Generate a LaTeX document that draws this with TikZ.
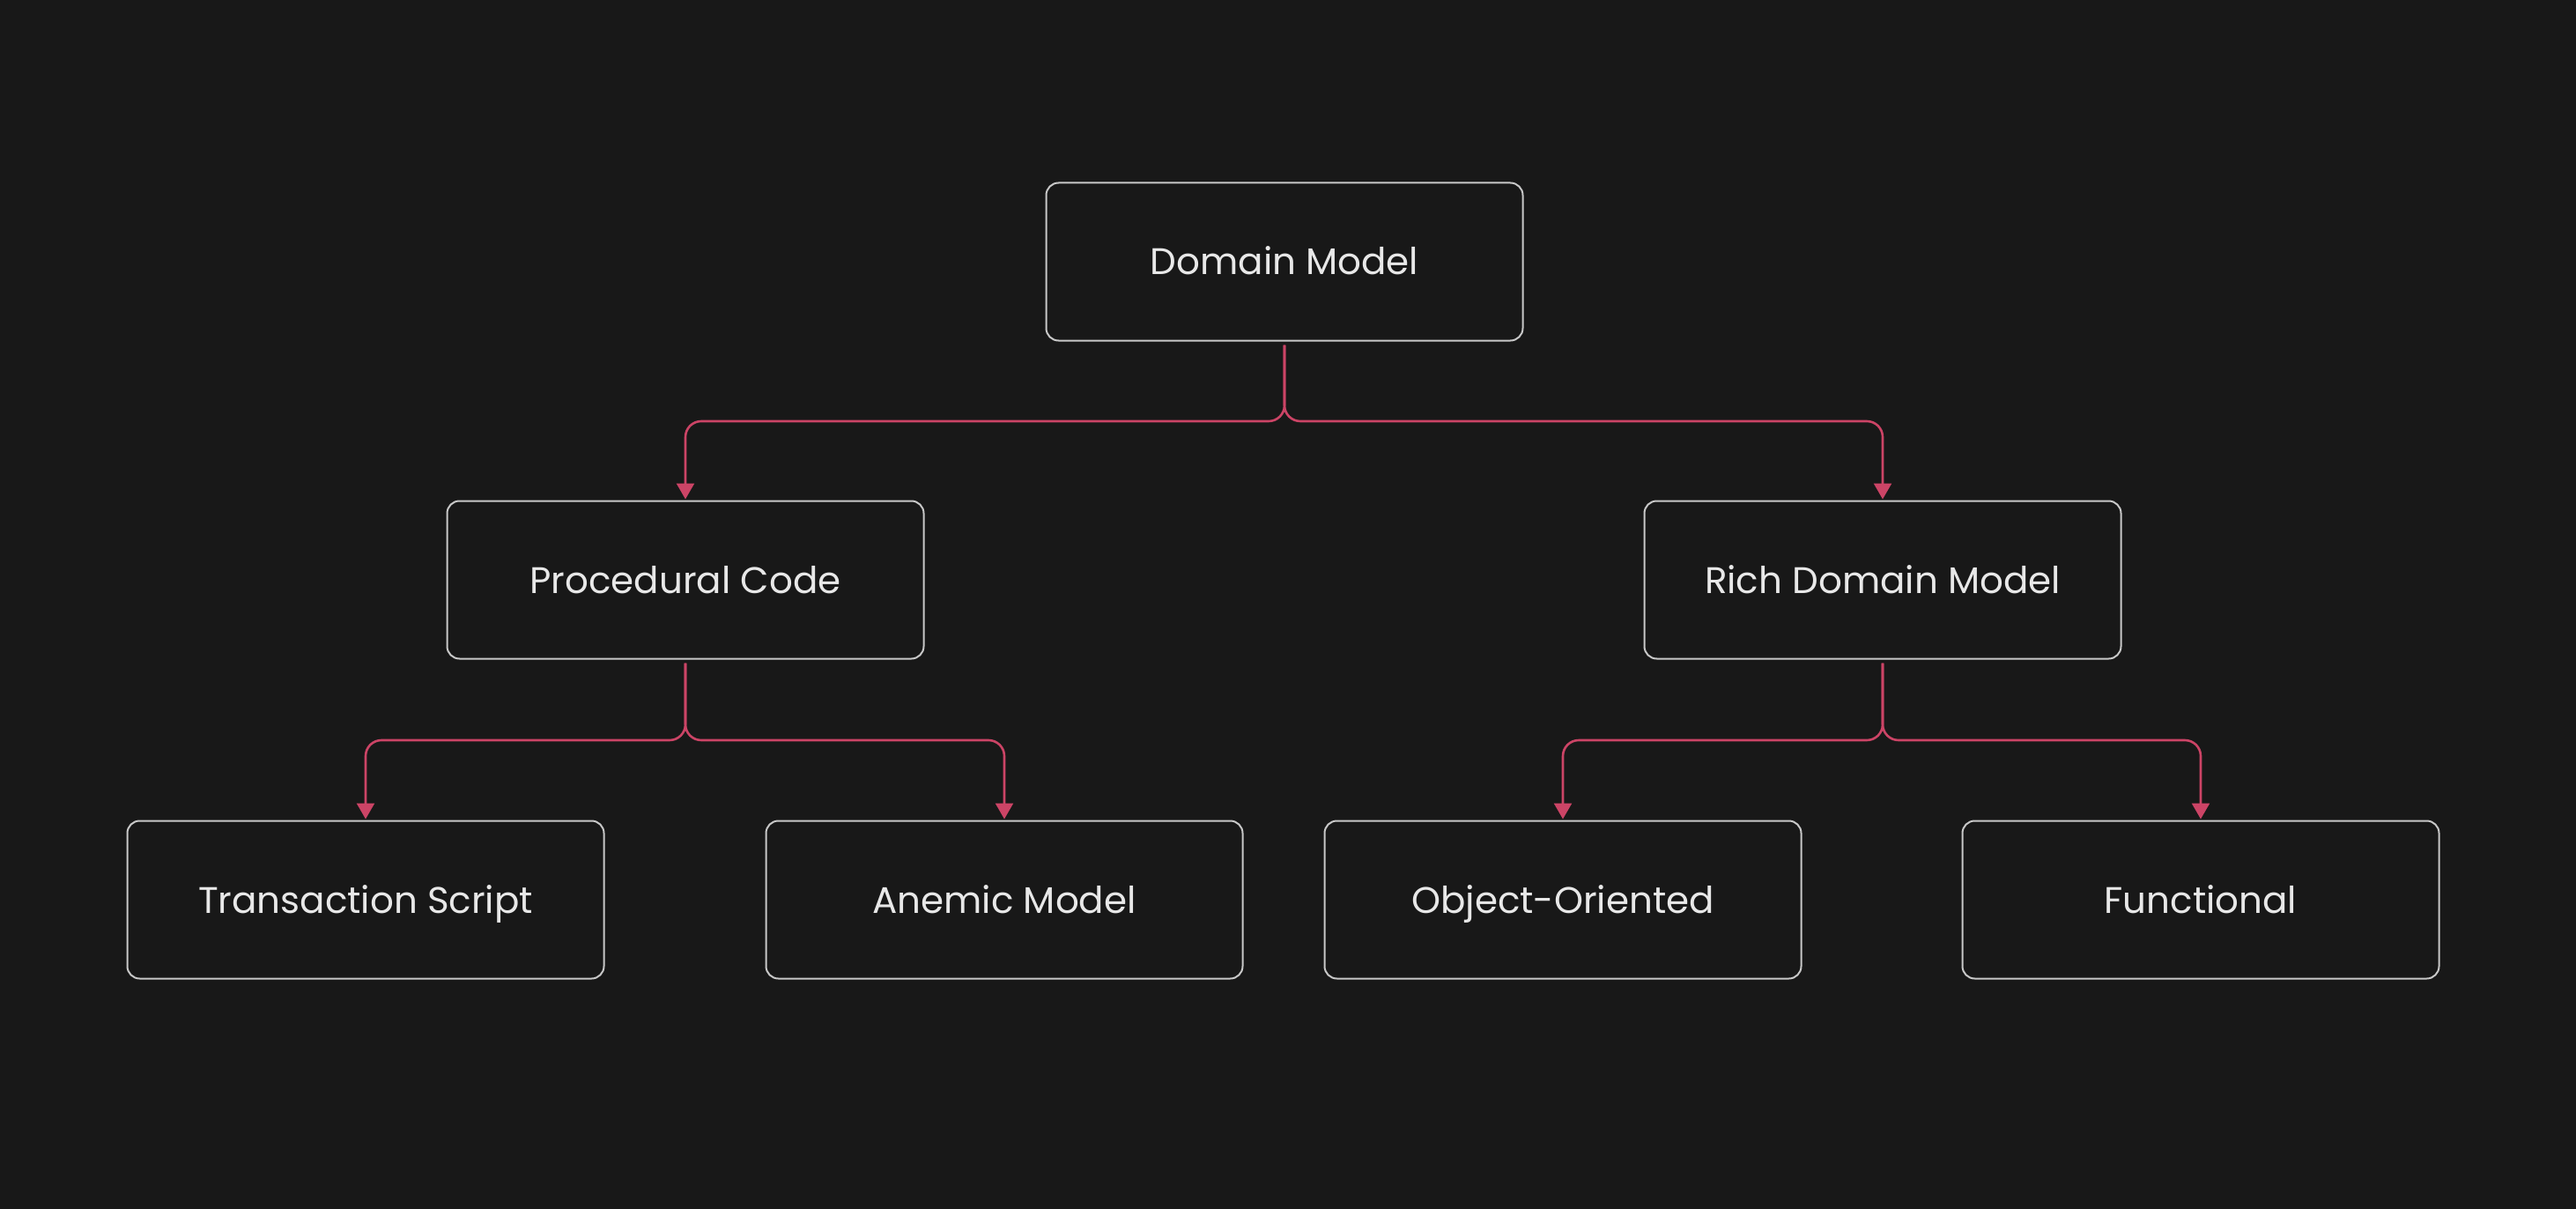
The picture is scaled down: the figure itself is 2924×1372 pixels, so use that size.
\documentclass[tikz,border=0pt]{standalone}
\usepackage{fontspec}
\setmainfont{Poppins}
\usetikzlibrary{arrows.meta}
\definecolor{bgc}{HTML}{181818}
\definecolor{boxline}{HTML}{C8C8C8}
\definecolor{txtc}{HTML}{E8E8E8}
\definecolor{redc}{HTML}{CC4466}
\tikzset{
  box/.style={draw=boxline, line width=2pt, rounded corners=14pt, fill=bgc,
    minimum width=541pt, minimum height=179pt, inner sep=0pt,
    text=txtc, font=\fontsize{42}{50}\selectfont, text height=30pt, text depth=0pt},
  conn/.style={draw=redc, line width=2.6pt, rounded corners=18pt,
    -{Triangle[width=20pt,length=18pt]}},
}
\begin{document}
\begin{tikzpicture}[x=1pt,y=-1pt]
\useasboundingbox (0,0) rectangle (2924,1372);
\fill[bgc] (0,0) rectangle (2924,1372);
\node[box] (dm) at (1458,297) {Domain Model};
\node[box] (pc) at (778,658) {Procedural Code};
\node[box] (rd) at (2137,658) {Rich Domain Model};
\node[box] (ts) at (415,1021) {Transaction Script};
\node[box] (am) at (1140,1021) {Anemic Model};
\node[box] (oo) at (1774,1021) {Object-Oriented};
\node[box] (fn) at (2498,1021) {Functional};
\coordinate (h1) at (0,478);
\coordinate (h2) at (0,840);
\foreach \p/\c/\h in {dm/pc/h1, dm/rd/h1, pc/ts/h2, pc/am/h2, rd/oo/h2, rd/fn/h2}{
  \draw[conn] ([yshift=-4pt]\p.south) -- (\p.south |- \h) -- (\c.north |- \h) -- ([yshift=1pt]\c.north);
}
\end{tikzpicture}
\end{document}
